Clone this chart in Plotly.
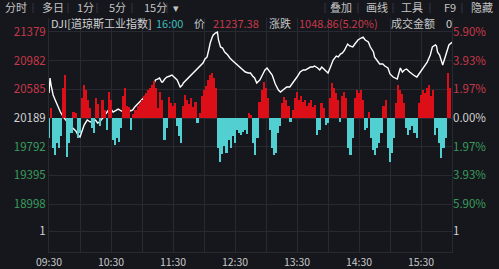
import plotly.graph_objects as go

# ---------------- data ----------------
time_labels = ["09:30", "10:30", "11:30", "12:30", "13:30", "14:30", "15:30"]
time_tick_minutes = [0, 60, 120, 180, 240, 300, 360]

price_ticks = [21379, 20982, 20585, 20189, 19792, 19395, 18998, 18626]
price_tick_text = ["21379", "20982", "20585", "20189", "19792", "19395", "18998", "1"]
pct_tick_text = ["5.90%", "3.93%", "1.97%", "0.00%", "1.97%", "3.93%", "5.90%", "1"]
tick_kind = ["up", "up", "up", "flat", "down", "down", "down", "flat"]

# index line: minutes after 09:30, price
line_minutes = [
    0, 1, 2, 4, 6, 8, 11, 14, 16, 18,
    20, 23, 26, 28, 30, 32, 34, 37, 40, 42,
    45, 47, 49, 52, 54, 57, 59, 62, 65, 67,
    70, 72, 75, 76, 79, 81, 83, 85, 88, 90,
    93, 95, 98, 100, 102, 103, 105, 107, 109, 110,
    112, 114, 117, 119, 122, 124, 127, 129, 130, 133,
    135, 137, 139, 142, 144, 147, 149, 151, 153, 155,
    156, 158, 159, 161, 163, 164, 166, 168, 170, 173,
    175, 178, 180, 183, 185, 188, 190, 193, 195, 197,
    199, 201, 204, 207, 209, 211, 214, 216, 219, 222,
    224, 226, 228, 230, 233, 236, 238, 240, 243, 246,
    248, 251, 253, 255, 257, 260, 262, 264, 267, 270,
    272, 275, 278, 280, 282, 284, 286, 289, 291, 294,
    296, 299, 302, 304, 306, 309, 311, 314, 315, 318,
    320, 323, 325, 328, 330, 333, 335, 337, 340, 342,
    344, 346, 349, 351, 354, 356, 358, 361, 363, 366,
    369, 371, 374, 375, 376, 378, 381, 383, 385, 387,
    390,
]
line_prices = [
    20535, 20742, 20645, 20507, 20438, 20369, 20272, 20203, 20161, 20134,
    20092, 20051, 20009, 19954, 19926, 20009, 20092, 20161, 20134, 20148,
    20161, 20120, 20134, 20189, 20230, 20300, 20327, 20272, 20300, 20313,
    20286, 20272, 20313, 20327, 20286, 20300, 20341, 20369, 20410, 20438,
    20479, 20507, 20562, 20604, 20673, 20715, 20728, 20742, 20687, 20687,
    20728, 20756, 20770, 20784, 20742, 20715, 20618, 20645, 20673, 20715,
    20742, 20784, 20811, 20853, 20881, 20922, 20950, 21005, 21033, 21157,
    21226, 21309, 21337, 21365, 21378, 21268, 21171, 21157, 21102, 21060,
    21019, 20977, 20950, 20908, 20881, 20853, 20825, 20811, 20811, 20770,
    20742, 20673, 20715, 20798, 20853, 20881, 20825, 20784, 20659, 20576,
    20549, 20576, 20590, 20618, 20618, 20673, 20715, 20756, 20825, 20853,
    20853, 20881, 20894, 20894, 20908, 20881, 20853, 20894, 20853, 20811,
    20881, 20991, 21046, 21033, 21074, 21088, 21129, 21212, 21185, 21171,
    21212, 21268, 21295, 21309, 21268, 21240, 21171, 21102, 21033, 20963,
    20936, 20936, 20908, 20881, 20798, 20756, 20742, 20728, 20881, 20825,
    20853, 20867, 20825, 20798, 20770, 20756, 20798, 20853, 20908, 20963,
    21060, 21171, 21199, 21185, 21102, 21060, 20922, 21019, 21102, 21199,
    21237.38,
]

# momentum bars, one per 2 minutes
bar_minutes = list(range(0, 390, 2))
bar_values = [
    -20, 10, -30, -37, -25, -30, -18, 30, 43, -39,
    -25, -15, 6, 5, -20, -15, 20, 33, 28, 18,
    10, -10, -15, 20, 14, -8, 18, 8, -12, 26,
    18, -22, -27, -20, -24, -10, 22, 30, 12, 11,
    -12, 4, 8, 12, 15, 18, 22, 25, 28, 30,
    33, 37, 30, 10, 26, 18, -22, -10, 21, 15,
    12, 15, -8, -18, -25, 12, 23, 18, 14, 20,
    11, 16, -5, 5, 22, 28, 32, 38, 43, 45,
    40, 30, -30, -44, -36, -28, -35, -22, -30, -18,
    -25, -12, -15, -17, -14, -12, -16, 5, 3, -25,
    -37, -20, 16, 28, 36, 30, 20, -12, -30, -37,
    -35, -15, -8, 15, 21, 18, 12, -4, 8, 20,
    26, 18, 22, 16, 18, 12, 15, 18, 11, 13,
    -17, -12, 15, 10, -7, -5, 20, 35, 30, 25,
    18, -4, 22, 26, 20, -30, -37, -20, 20, 28,
    25, 28, 18, -12, -10, 6, -20, -32, -37, -30,
    -25, -15, 12, 18, -30, -44, -35, -20, 15, 33,
    28, 24, 15, -10, -17, -12, -8, -15, -20, 15,
    23, 28, 25, 30, 33, 22, 28, -17, -10, -25,
    -40, -30, -20, 45, 30,
]

# ---------------- style ----------------
BG = "#15171c"
GRID = "#272a31"
RED_TXT = "#c8384a"
GREEN_TXT = "#3a9c5c"
WHITE_TXT = "#d2d2d2"
GREY_TXT = "#c4c4c4"
BAR_RED = "#dc0f18"
BAR_CYAN = "#52cfd0"
FONT = "Noto Sans CJK SC, Noto Sans, sans-serif"

W, H = 499, 269
L, R, T, B = 49, 452, 18, 252
Y_TOP, Y_BOT = 21572, 18336
BAR_RANGE = [-134, 100]

kind_color = {"up": RED_TXT, "down": GREEN_TXT, "flat": WHITE_TXT}
left_text = [f'<span style="color:{kind_color[k]}">{t}</span>' for t, k in zip(price_tick_text, tick_kind)]
right_text = [f'<span style="color:{kind_color[k]}">{t}</span>' for t, k in zip(pct_tick_text, tick_kind)]

fig = go.Figure()
fig.add_trace(go.Bar(
    x=bar_minutes, y=bar_values, yaxis="y3", width=1.6,
    marker=dict(color=[BAR_RED if v > 0 else BAR_CYAN for v in bar_values], line=dict(width=0)),
    showlegend=False, hoverinfo="skip",
))
fig.add_trace(go.Scatter(
    x=line_minutes, y=line_prices, mode="lines",
    line=dict(color="#ffffff", width=1.4), showlegend=False, hoverinfo="skip",
))
# invisible trace to activate right axis
fig.add_trace(go.Scatter(x=[0], y=[20189], yaxis="y2", mode="markers",
                         marker=dict(opacity=0), showlegend=False, hoverinfo="skip"))


def px_x(x):
    return (x - L) / (R - L)


def px_y(y):
    return (B - y) / (B - T)


annotations = []
toolbar_left = [("分时", 3), ("多日", 40), ("1分", 75), ("5分", 107), ("15分", 142), ("▾", 171)]
toolbar_right = [("叠加", 328), ("画线", 364), ("工具", 399), ("F9", 442), ("隐藏", 469)]
for txt, x in toolbar_left + toolbar_right:
    annotations.append(dict(text=txt, x=px_x(x), y=px_y(7.5), xref="paper", yref="paper",
                            xanchor="left", yanchor="middle", showarrow=False,
                            font=dict(size=11, color=GREY_TXT, family=FONT)))

header = [("DJI[道琼斯工业指数]", 49, WHITE_TXT), ("16:00", 154, "#3fbcbc"), ("价", 192, GREY_TXT),
          ("21237.38", 211, RED_TXT), ("涨跌", 267, GREY_TXT), ("1048.86(5.20%)", 297, RED_TXT),
          ("成交金额", 389, GREY_TXT), ("0", 444, WHITE_TXT)]
for txt, x, c in header:
    annotations.append(dict(text=txt, x=px_x(x), y=px_y(23), xref="paper", yref="paper",
                            xanchor="left", yanchor="middle", showarrow=False,
                            font=dict(size=11, color=c, family=FONT)))

shapes = []
for x in [33, 68, 97, 132, 167, 325, 358, 393, 430, 462]:
    shapes.append(dict(type="line", xref="paper", yref="paper", x0=px_x(x), x1=px_x(x),
                       y0=px_y(3), y1=px_y(13), line=dict(color="#34373f", width=1)))

fig.update_layout(
    width=W, height=H,
    margin=dict(l=L, r=W - R, t=T, b=H - B, autoexpand=False),
    paper_bgcolor=BG, plot_bgcolor=BG,
    font=dict(family=FONT, size=11, color=WHITE_TXT),
    bargap=0,
    xaxis=dict(range=[0, 390], tickvals=time_tick_minutes, ticktext=time_labels,
               showgrid=True, gridcolor=GRID, gridwidth=1, zeroline=False,
               minor=dict(dtick=30, tick0=0, showgrid=True, gridcolor=GRID, gridwidth=1),
               showline=True, linecolor=GRID, ticks="", tickfont=dict(size=10.5, color="#c8c8c8"),
               automargin=False, fixedrange=True),
    yaxis=dict(range=[Y_BOT, Y_TOP], tickvals=price_ticks, ticktext=left_text,
               showgrid=True, gridcolor=GRID, zeroline=False, ticks="", automargin=False,
               showline=True, linecolor=GRID, mirror=True, tickfont=dict(size=11.5)),
    yaxis2=dict(range=[Y_BOT, Y_TOP], tickvals=price_ticks, ticktext=right_text, automargin=False,
                overlaying="y", side="right", showgrid=False, zeroline=False, ticks="",
                tickfont=dict(size=11.5)),
    yaxis3=dict(range=BAR_RANGE, overlaying="y", visible=False, automargin=False),
    annotations=annotations,
    shapes=shapes,
)

fig.write_html("out.html")
